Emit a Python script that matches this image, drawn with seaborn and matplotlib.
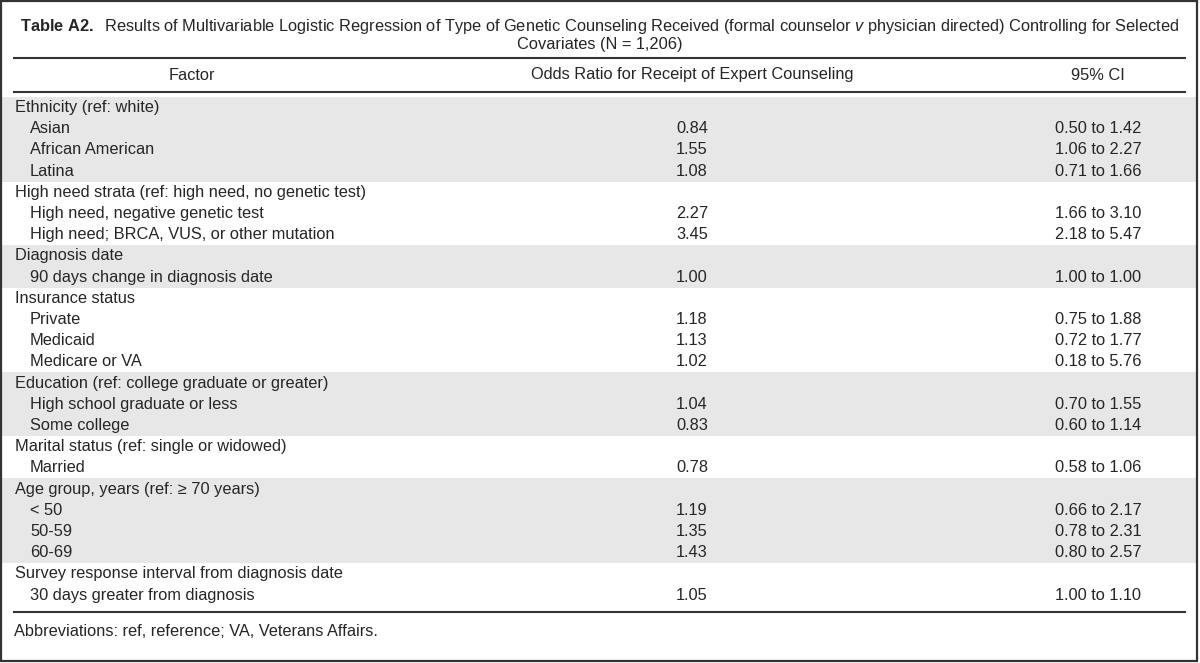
import numpy as np
import matplotlib
matplotlib.use("Agg")
import matplotlib.pyplot as plt
from matplotlib.colors import ListedColormap
from matplotlib.patches import Rectangle
import seaborn as sns

# --- table content ---
title_line1 = (r"$\mathbf{Table\ A2.}$  Results of Multivariable Logistic Regression of Type of Genetic "
               r"Counseling Received (formal counselor $\mathit{v}$ physician directed) Controlling for Selected")
title_line2 = "Covariates (N = 1,206)"
headers = ["Factor", "Odds Ratio for Receipt of Expert Counseling", "95% CI"]
footnote = "Abbreviations: ref, reference; VA, Veterans Affairs."

factors = [
    "Ethnicity (ref: white)", "Asian", "African American", "Latina",
    "High need strata (ref: high need, no genetic test)", "High need, negative genetic test",
    "High need; BRCA, VUS, or other mutation",
    "Diagnosis date", "90 days change in diagnosis date",
    "Insurance status", "Private", "Medicaid", "Medicare or VA",
    "Education (ref: college graduate or greater)", "High school graduate or less", "Some college",
    "Marital status (ref: single or widowed)", "Married",
    "Age group, years (ref: \u2265 70 years)", "< 50", "50-59", "60-69",
    "Survey response interval from diagnosis date", "30 days greater from diagnosis",
]
is_group = [1, 0, 0, 0, 1, 0, 0, 1, 0, 1, 0, 0, 0, 1, 0, 0, 1, 0, 1, 0, 0, 0, 1, 0]
odds_ratio = [None, 0.84, 1.55, 1.08, None, 2.27, 3.45, None, 1.00, None, 1.18, 1.13, 1.02,
              None, 1.04, 0.83, None, 0.78, None, 1.19, 1.35, 1.43, None, 1.05]
ci_low = [None, 0.50, 1.06, 0.71, None, 1.66, 2.18, None, 1.00, None, 0.75, 0.72, 0.18,
          None, 0.70, 0.60, None, 0.58, None, 0.66, 0.78, 0.80, None, 1.00]
ci_high = [None, 1.42, 2.27, 1.66, None, 3.10, 5.47, None, 1.00, None, 1.88, 1.77, 5.76,
           None, 1.55, 1.14, None, 1.06, None, 2.17, 2.31, 2.57, None, 1.10]

# --- style ---
sns.set_theme(style="white")
plt.rcParams["font.family"] = ["Liberation Sans", "DejaVu Sans"]
plt.rcParams["mathtext.fontset"] = "custom"
plt.rcParams["mathtext.rm"] = "Liberation Sans"
plt.rcParams["mathtext.it"] = "Liberation Sans:italic"
plt.rcParams["mathtext.bf"] = "Liberation Sans:bold"

W, H = 1200, 663
TXT = "#262626"
LINE = "#333333"
SHADE = "#E6E7E6"
FS = 11.8

fig = plt.figure(figsize=(W / 100, H / 100), dpi=100)

# row layout (pixels)
row_h = 21.2
body_top = 96.9
n = len(factors)
body_bot = body_top + n * row_h

# alternating shading per factor group, drawn as a seaborn heatmap
group_id = np.cumsum(is_group) - 1
shade = (group_id % 2 == 0).astype(int).reshape(-1, 1)
ax_bg = fig.add_axes([2 / W, 1 - body_bot / H, 1194 / W, (body_bot - body_top) / H])
sns.heatmap(shade, ax=ax_bg, cmap=ListedColormap(["white", SHADE]), vmin=0, vmax=1,
            cbar=False, xticklabels=False, yticklabels=False)
ax_bg.axis("off")

# overlay in pixel coordinates
ax = fig.add_axes([0, 0, 1, 1], facecolor="none")
ax.set_xlim(0, W)
ax.set_ylim(H, 0)
ax.axis("off")

# frame and rules
ax.add_patch(Rectangle((1, 1), 1196, 660, fill=False, edgecolor=LINE, lw=1.6))
for y in (57.5, 91.5, 612):
    ax.plot([13, 1186], [y, y], color=LINE, lw=1.5, solid_capstyle="butt")

# title
ax.text(600, 27, title_line1, ha="center", va="center", fontsize=FS, color=TXT)
ax.text(600, 44, title_line2, ha="center", va="center", fontsize=FS, color=TXT)

# header
x_factor, x_or, x_ci = 192, 692, 1098
ax.text(x_factor, 75, headers[0], ha="center", va="center", fontsize=FS, color=TXT)
ax.text(x_or, 75, headers[1], ha="center", va="center", fontsize=FS, color=TXT)
ax.text(x_ci, 75, headers[2], ha="center", va="center", fontsize=FS, color=TXT)

# body rows
for i, label in enumerate(factors):
    y = body_top + (i + 0.5) * row_h
    x = 15 if is_group[i] else 30
    ax.text(x, y, label, ha="left", va="center", fontsize=FS, color=TXT)
    if odds_ratio[i] is not None:
        ax.text(x_or, y, f"{odds_ratio[i]:.2f}", ha="center", va="center", fontsize=FS, color=TXT)
        ax.text(x_ci, y, f"{ci_low[i]:.2f} to {ci_high[i]:.2f}", ha="center", va="center",
                fontsize=FS, color=TXT)

# footnote
ax.text(14, 631, footnote, ha="left", va="center", fontsize=FS, color=TXT)

fig.savefig("out.png", dpi=100)
